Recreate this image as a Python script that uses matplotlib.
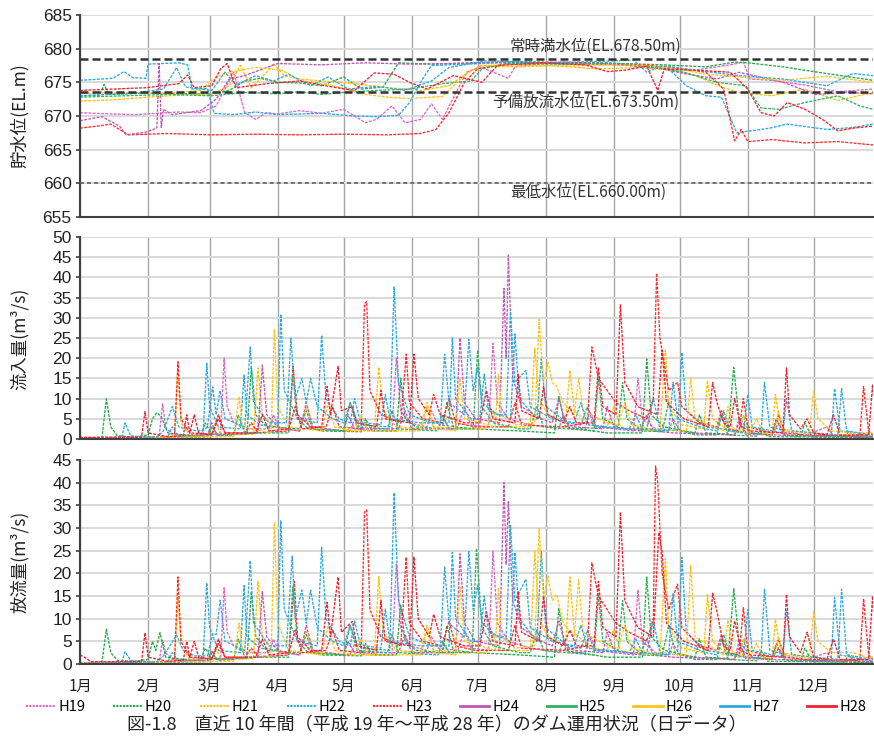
import matplotlib
matplotlib.use("Agg")
import matplotlib.pyplot as plt
from matplotlib.lines import Line2D

plt.rcParams['font.family'] = ['Liberation Sans', 'DejaVu Sans']
JP = ['Noto Sans CJK JP', 'DejaVu Sans']

years = ['H19', 'H20', 'H21', 'H22', 'H23', 'H24', 'H25', 'H26', 'H27', 'H28']
colors = ['#DD66CC', '#22AA44', '#FFC000', '#22AAE6', '#FF2A2A',
          '#C055B8', '#2DB35F', '#FFC41A', '#33A8DD', '#F02030']
dashed_years = ['H19', 'H20', 'H21', 'H22', 'H23']

month_days = [0, 31, 59, 90, 120, 151, 181, 212, 243, 273, 304, 334]
month_labels = ['1月', '2月', '3月', '4月', '5月', '6月', '7月', '8月', '9月', '10月', '11月', '12月']

# reference water levels (EL.m)
full_level = 678.5
flood_level = 673.5
min_level = 660.0

# --- 貯水位 (day of year, EL.m) ---
lv_h19 = [(0, 670.5), (15, 670.3), (25, 670.2), (35, 670.4), (45, 670.6), (55, 670.5), (62, 671.5), (66, 674), (70, 676.5),
          (75, 670.5), (80, 669.5), (85, 670.5), (90, 670.3), (100, 670.8), (110, 670.4), (120, 671), (130, 669), (135, 669.5),
          (142, 671.5), (148, 669), (155, 669.5), (160, 671.8), (165, 669.5), (172, 674), (176, 676.5), (182, 677.3), (195, 675.6),
          (198, 677.3), (210, 677.8), (230, 677.7), (250, 677.6), (265, 677), (280, 676.8), (296, 677.6), (302, 678), (305, 675.5),
          (315, 675.3), (330, 674.6), (345, 673.6), (361, 674.0)]
lv_h20 = [(0, 673.0), (9, 673.1), (11, 674.7), (13, 673.2), (30, 673.4), (45, 673.3), (60, 673.3), (68, 673.8), (75, 675.2),
          (82, 675.6), (90, 675.0), (100, 674.9), (110, 674.5), (120, 675.8), (128, 674.0), (138, 674.3), (145, 677.9), (160, 677.7),
          (180, 677.9), (200, 678.1), (220, 677.9), (245, 677.8), (265, 677.6), (285, 677.3), (298, 678.0), (304, 677.9), (320, 677.3),
          (340, 676.3), (361, 675.3)]
lv_h21 = [(0, 672.2), (15, 672.4), (31, 672.8), (45, 673.1), (60, 673.3), (68, 674.5), (73, 677.5), (78, 674.2), (85, 676.5),
          (88, 677.8), (93, 676), (100, 675.5), (110, 675.2), (125, 674.8), (140, 674.2), (155, 673.8), (168, 674.5), (178, 676.8),
          (185, 677.4), (200, 677.3), (215, 677.5), (235, 677.0), (255, 677.2), (270, 676.8), (280, 676.0), (293, 674.2), (300, 673.5),
          (315, 673.0), (330, 674.0), (345, 672.3), (361, 673.5)]
lv_h22 = [(0, 675.3), (15, 675.6), (20, 676.6), (24, 675.7), (30, 675.6), (31, 677.7), (45, 677.9), (49, 677.6), (51, 674.0),
          (58, 674.1), (61, 670.4), (70, 670.2), (80, 670.6), (90, 670.2), (110, 670.4), (125, 670.0), (135, 669.9), (145, 670.1),
          (150, 672), (155, 675), (160, 677.5), (175, 677.7), (200, 678.0), (220, 677.8), (240, 677.9), (255, 677.4), (268, 677.0),
          (276, 674.5), (285, 673.0), (292, 672.8), (299, 667.5), (314, 668.2), (322, 668.8), (340, 668.0), (352, 668.3), (361, 668.8)]
lv_h23 = [(0, 668.2), (8, 668.5), (14, 668.8), (18, 668.0), (22, 667.2), (40, 667.4), (60, 667.2), (80, 667.3), (100, 667.2),
          (120, 667.3), (140, 667.2), (155, 667.4), (162, 668), (168, 670.5), (175, 675), (181, 677), (195, 677.8), (220, 678.0),
          (240, 677.8), (255, 677.6), (270, 677.2), (285, 676.5), (293, 674.0), (298, 666.3), (301, 668.0), (304, 666.2),
          (315, 666.5), (330, 666.0), (345, 666.2), (361, 665.7)]
lv_h24 = [(0, 669.3), (10, 669.9), (18, 668.5), (21, 667.2), (30, 667.6), (35, 668.2), (36, 677.8), (37, 668.3), (38, 671),
          (42, 670.2), (55, 670.8), (62, 672.5), (68, 675.5), (75, 676), (85, 677.2), (90, 677.8), (110, 677.6), (130, 677.9),
          (150, 677.7), (170, 677.8), (190, 678.0), (200, 677.6), (220, 677.9), (245, 677.6), (262, 677.2), (275, 676.3),
          (290, 675.5), (300, 676.5), (320, 675), (335, 673.2), (350, 673.5), (361, 673.3)]
lv_h25 = [(0, 672.8), (20, 673.0), (40, 673.2), (60, 673.0), (75, 673.5), (90, 673.3), (100, 673.6), (110, 673.2), (120, 673.5),
          (135, 673.8), (150, 674.0), (165, 674.8), (178, 675.2), (183, 677), (195, 677.8), (220, 677.7), (245, 677.8), (260, 677.3),
          (275, 676.5), (290, 675.0), (303, 674.5), (310, 671.2), (318, 671.0), (330, 672), (345, 673), (355, 671.5), (361, 671)]
lv_h26 = [(0, 673.3), (20, 673.5), (40, 673.4), (55, 673.8), (62, 675.8), (68, 676.5), (80, 677.2), (92, 676.8), (100, 675.3),
          (115, 674.5), (130, 673.2), (140, 672.8), (150, 672.6), (165, 672.9), (175, 676), (182, 677.5), (200, 677.6), (220, 677.4),
          (240, 677.6), (260, 677.5), (272, 677), (285, 676.2), (300, 675.8), (320, 675.3), (340, 675.9), (361, 675.0)]
lv_h27 = [(0, 673.0), (25, 673.4), (38, 674.0), (44, 677.2), (48, 674.3), (60, 673.8), (66, 676.5), (71, 674.6), (80, 676.0),
          (88, 675.2), (95, 676.2), (105, 674.5), (113, 675.8), (122, 674.0), (135, 674.4), (148, 673.8), (160, 675.2), (168, 677.2),
          (185, 678.2), (210, 677.9), (235, 678.1), (252, 678.3), (258, 676.5), (265, 677.5), (280, 676.8), (300, 676.0),
          (320, 675.5), (340, 674.5), (352, 676.3), (361, 676.0)]
lv_h28 = [(0, 673.8), (15, 674.0), (30, 674.2), (45, 674.8), (49, 676.1), (52, 674.2), (60, 674.5), (64, 677), (67, 677.8),
          (71, 674.2), (85, 674.8), (100, 675.2), (115, 674.3), (125, 673.8), (134, 676.4), (143, 676.2), (150, 675), (158, 674),
          (170, 676), (183, 675), (190, 677.5), (210, 677.9), (230, 677.6), (240, 676.6), (248, 676.8), (258, 677.4), (263, 673.8),
          (266, 677), (280, 676.8), (296, 676.5), (304, 674), (310, 670.5), (316, 670.0), (322, 672), (330, 671), (338, 669.5),
          (345, 667.8), (352, 668.2), (361, 668.5)]

# --- 流入量 (day of year, m3/s) ---
qin_h19 = [(0, 0.2), (20, 0.3), (36, 0.5), (37.6, 8.7), (39, 3), (42, 1), (64, 1.2), (65.6, 20), (67, 8), (70, 4), (75, 2.5),
           (86, 2.5), (88, 6), (91, 2.5), (100, 2), (102, 6), (105, 2.5), (123, 2), (125, 5), (128, 2.2), (142, 2), (144, 20),
           (146, 7), (150, 4), (158, 3), (160, 7), (163, 3.5), (172, 3), (175, 8), (178, 3.5), (186, 3), (188, 23.7), (190, 9),
           (195, 5), (205, 3.5), (218, 2.5), (220, 6), (223, 2.5), (230, 2.5), (232, 7), (235, 3), (252, 2), (254, 15), (256, 5),
           (262, 2.5), (268, 2), (270, 5), (273, 2), (280, 1.5), (298, 1), (300, 4), (303, 1.2), (330, 0.8), (340, 3), (343, 0.8),
           (361, 0.6)]
qin_h20 = [(0, 0.2), (10, 0.4), (12, 9.9), (14, 3), (17, 0.8), (25, 0.5), (31, 1), (33, 5), (35, 6.5), (37, 5.5), (40, 1.5),
           (50, 0.8), (55, 1), (57, 4), (60, 1.2), (76, 1.2), (78, 17.9), (80, 6), (85, 3), (100, 2.5), (103, 7), (106, 2.5),
           (110, 2), (128, 1.8), (130, 5), (133, 2), (144, 2), (146, 15), (148, 5), (153, 3), (165, 2.5), (167, 9), (170, 3),
           (180, 2.5), (200, 2), (216, 1.5), (218, 10.5), (221, 3), (240, 1.5), (256, 1.5), (258, 19.8), (260, 6), (266, 3),
           (280, 1.5), (282, 6), (285, 1.5), (295, 1.2), (297.6, 17.7), (300, 5), (306, 1.5), (315, 1), (317, 5), (320, 1),
           (328, 0.6), (330, 4), (333, 0.6), (361, 0.3)]
qin_h21 = [(0, 0.1), (43, 0.3), (44.6, 17), (46, 4), (50, 1), (60, 0.8), (62, 4), (64, 1), (79, 1.2), (81, 17.6), (83, 6), (88, 3),
           (100, 2), (103, 8), (106, 2.5), (120, 2), (134, 2), (136, 17.8), (138, 7), (144, 3), (155, 2.5), (158, 9), (161, 3),
           (175, 2.5), (185, 2.5), (188, 7), (191, 3), (205, 3), (207, 22.5), (209, 10), (213, 6), (221, 4), (223, 17), (225, 7),
           (232, 3.5), (240, 3), (243, 8), (246, 3), (250, 2.5), (264, 2), (266.5, 22), (268, 8), (274, 3.5), (284, 2.5),
           (285.6, 14.5), (288, 5), (295, 2), (300, 1.5), (302, 6), (305, 1.5), (315, 1), (316.6, 11), (319, 2.5), (340, 1),
           (361, 0.8)]
qin_h22 = [(0, 0.2), (19, 0.3), (20.5, 4), (23, 0.8), (30, 0.4), (40, 0.5), (42, 3), (45, 0.6), (56, 0.8), (57.7, 18.8), (59, 8),
           (63, 3), (73, 2.5), (74.7, 15.8), (76, 6), (82, 3.5), (90, 3), (91.4, 30.9), (93, 12), (99, 5), (108, 4), (110, 25.7),
           (112, 10), (118, 5), (123, 4), (125, 10), (128, 3.5), (141, 3), (143, 37.6), (145, 14), (150, 6), (160, 4), (168, 4),
           (169.5, 25), (171, 10), (178, 5), (182, 5), (184, 16), (186, 7), (196, 5), (198, 26), (200, 10), (208, 5), (210, 19.8),
           (212, 8), (222, 4), (228, 3.5), (231, 8), (234, 3), (250, 2.5), (258, 2.5), (261, 10), (264, 2.5), (272, 2),
           (274, 21.4), (276, 7), (285, 3), (310, 1.2), (311.6, 14), (314, 3), (330, 0.8), (342, 0.8), (343.5, 12.5), (346, 2),
           (361, 0.6)]
qin_h23 = [(0, 0.3), (43, 0.5), (44.6, 19.1), (46, 5), (50, 1.5), (60, 1.2), (63, 5), (66, 1.5), (75, 1.5), (78, 4), (81, 1.5),
           (95, 2), (97, 18), (99, 6), (105, 3), (112, 3), (115, 8), (118, 3), (128, 2.5), (129.5, 33.5), (130.5, 34), (132, 12),
           (137, 6), (146, 4), (148.5, 21), (150, 9), (156, 5), (165, 4), (168, 10), (171, 4), (180, 3), (195, 3), (198, 9),
           (201, 3.5), (220, 3), (231, 4), (233, 22.8), (236, 15), (240, 12), (244, 9), (250, 7), (258, 5), (261, 10),
           (262.5, 41), (264, 25), (268, 12), (272, 14), (274, 8), (282, 4), (290, 3), (292, 7), (295, 2.5), (300, 2), (302, 10),
           (304, 3), (315, 1.5), (318, 6), (321, 1.5), (330, 1), (355, 0.8), (356.7, 13), (359, 2), (361, 1)]
qin_h24 = [(0, 0.3), (30, 0.4), (58, 0.8), (60, 4), (62, 1), (81, 1.5), (83, 18.3), (85, 6), (90, 3), (100, 2), (103, 9),
           (106, 3), (120, 2), (122, 6), (125, 2.5), (145, 2.5), (148, 7), (151, 2.5), (171, 2.5), (173, 25), (175, 9), (180, 5),
           (191, 4), (193, 37.3), (194, 20), (195, 45.5), (197, 15), (201, 8), (210, 5), (215, 4), (218, 10), (221, 4), (225, 3),
           (238, 2.5), (240, 8), (243, 3), (255, 2), (258, 6), (261, 2), (270, 1.5), (298, 1), (300, 5), (303, 1.5), (315, 1),
           (318, 4), (321, 1), (330, 0.8), (361, 0.5)]
qin_h25 = [(0, 0.1), (40, 0.3), (58, 0.5), (60, 3), (63, 0.8), (70, 1), (72, 6), (75, 1.5), (95, 1.5), (96.8, 16), (99, 5),
           (104, 2.5), (120, 2), (123, 9), (126, 3), (140, 2.5), (142, 7), (145, 2.5), (163, 2), (165, 6), (168, 2.5), (179, 2.5),
           (181, 22), (183, 8), (188, 4), (200, 2.5), (205, 2.5), (208, 8), (211, 3), (234, 2), (236, 15), (238, 5), (245, 3),
           (247, 14), (249, 5), (256, 2), (265, 1.8), (268, 9), (271, 2.5), (280, 1), (290, 1), (292, 6), (295, 1), (308, 0.7),
           (310, 3), (313, 0.6), (348, 0.4), (350, 2), (353, 0.3), (361, 0.2)]
qin_h26 = [(0, 0.2), (70, 0.6), (72.4, 10.5), (74, 3), (87, 1.5), (88.5, 27.2), (90, 8), (95, 3), (110, 2), (113, 9), (116, 3),
           (125, 2), (128, 6), (131, 2), (150, 2), (155, 2), (158, 8), (161, 2.5), (171, 2), (173, 15), (175, 5), (189, 3),
           (190.5, 16), (192, 6), (198, 3.5), (207, 4), (209, 29.6), (211, 14), (213, 19), (215, 14), (217, 13), (220, 9), (225, 6),
           (227, 15), (229, 7), (240, 4), (245, 3.5), (248, 9), (251, 3.5), (260, 2.5), (276, 2), (278, 15), (280, 5), (293, 2),
           (295, 8), (297, 2.5), (305, 1.5), (308, 5), (311, 1.5), (316, 1.5), (318, 7), (320, 2), (332, 1.2), (334, 12), (336, 5),
           (342, 2), (352, 1.5), (361, 1.5)]
qin_h27 = [(0, 0.1), (35, 0.5), (38, 2), (42, 8), (45, 3), (50, 2.2), (56, 2), (58, 3), (60.4, 12.9), (62, 6), (63.8, 12), (66, 5),
           (75, 3), (77.5, 22.8), (79, 9), (86, 4), (94, 4), (96, 25), (98, 10), (101, 15), (103, 9), (105, 15), (108, 8), (115, 5),
           (120, 4), (123, 9), (126, 4.5), (130, 4), (137, 3.5), (139, 11), (141, 5), (155, 4), (164, 4), (166, 21), (168, 9),
           (175, 6), (177, 24.7), (179, 12), (181, 17.8), (183, 9), (190, 6), (194, 6), (196, 31.5), (198, 14), (203, 17), (205, 8),
           (215, 5), (225, 4), (228, 9), (231, 3.5), (240, 3), (250, 2.5), (253, 6), (256, 2.5), (268, 2), (270, 14), (272, 5),
           (285, 2.5), (290, 2), (293, 7), (296, 2), (302, 1.5), (304, 11), (306, 3), (320, 1.5), (321.6, 10), (324, 2), (345, 1),
           (346.7, 12.5), (349, 2), (361, 1)]
qin_h28 = [(0, 0.4), (28, 0.5), (29.6, 6.8), (31, 1.5), (40, 0.6), (47, 0.8), (48.6, 6), (50, 1.5), (52, 6), (54, 1.5), (60, 1),
           (63, 6), (66, 1.5), (80, 1.5), (83, 6), (86, 2), (95, 2.5), (98, 8), (101, 2.5), (110, 3), (112.5, 13), (114, 6),
           (117.5, 18), (119, 7), (124, 8), (126, 4), (135, 3), (137, 12), (139, 5), (150, 4), (152, 21), (154, 10), (159, 6),
           (161, 11), (164, 6), (175, 4), (182, 4), (185, 12), (188, 5), (198, 4), (199.5, 16), (201, 7), (209, 5), (211, 13),
           (213, 6), (220, 4), (223, 8), (226, 4), (234, 4), (236, 17.7), (238, 8), (244, 6), (246, 33.2), (248, 14), (254, 8),
           (263, 6), (265, 22), (267, 9), (275, 5), (286, 3), (288, 14), (290, 9), (293, 4), (296, 3), (298, 10), (301, 3),
           (305, 2), (320, 1.5), (321.6, 17.6), (323, 6), (328, 2.5), (331, 5), (334, 1.5), (340, 1), (343, 6), (346, 1),
           (359, 1), (360.8, 13.5), (362, 5)]

# --- 放流量 (day of year, m3/s) ---
qout_h19 = [(0, 0.2), (20, 0.3), (36, 0.5), (37.6, 5.3), (39, 2.5), (42, 1), (64, 1.2), (65.6, 16.8), (67, 7), (70, 4),
            (75, 2.5), (86, 2.5), (88, 5.5), (91, 2.5), (100, 2), (102, 5), (105, 2.5), (123, 2), (125, 4.5), (128, 2.2), (142, 2),
            (144, 22), (146, 8), (150, 4), (158, 3), (160, 6), (163, 3.5), (172, 3), (175, 7.5), (178, 3.5), (186, 3), (188, 24.8),
            (190, 9), (195, 5), (205, 3.5), (218, 2.5), (220, 5), (223, 2.5), (230, 2.5), (232, 6.5), (235, 3), (252, 2),
            (254, 16.4), (256, 5), (262, 2.5), (268, 2), (270, 4.5), (273, 2), (280, 1.5), (298, 1), (300, 3.5), (303, 1.2),
            (330, 0.8), (340, 2.5), (343, 0.8), (361, 0.6)]
qout_h20 = [(0, 0.2), (10, 0.4), (12, 7.7), (14, 2.5), (17, 0.8), (25, 0.6), (31, 1), (33, 5), (34.5, 3), (36.4, 6.9), (39, 1.5),
            (50, 0.8), (55, 1), (57, 3.5), (60, 1.2), (76, 1.2), (78, 16), (80, 6), (85, 3), (100, 2.5), (103, 6.5), (106, 2.5),
            (110, 2), (128, 1.8), (130, 4.5), (133, 2), (144, 2), (146, 13), (148, 5), (153, 3), (165, 2.5), (167, 8.5), (170, 3),
            (180, 2.5), (200, 2), (216, 1.5), (218, 12.3), (221, 3), (240, 1.5), (256, 1.5), (258, 19.2), (260, 6), (266, 3),
            (280, 1.5), (282, 5.5), (285, 1.5), (295, 1.2), (297.6, 16.6), (300, 5), (306, 1.5), (315, 1), (317, 4.5), (320, 1),
            (328, 0.6), (330, 3.5), (333, 0.6), (361, 0.3)]
qout_h21 = [(0, 0.1), (43, 0.3), (44.6, 15), (46, 4), (50, 1), (60, 0.8), (62, 3.5), (64, 1), (79, 1.2), (81, 18.2), (83, 6),
            (88, 3), (100, 2), (103, 7.5), (106, 2.5), (120, 2), (134, 2), (136, 19.3), (138, 7), (144, 3), (155, 2.5), (158, 8.5),
            (161, 3), (175, 2.5), (185, 2.5), (188, 6.5), (191, 3), (205, 3), (207, 24.8), (209, 10), (213, 6), (221, 4),
            (223, 19.2), (225, 7), (232, 3.5), (240, 3), (243, 7.5), (246, 3), (250, 2.5), (264, 2), (266.5, 23.3), (268, 8),
            (274, 3.5), (284, 2.5), (285.6, 15.3), (288, 5), (295, 2), (300, 1.5), (302, 5.5), (305, 1.5), (315, 1),
            (316.6, 9.8), (319, 2.5), (340, 1), (361, 0.8)]
qout_h22 = [(0, 0.2), (19, 0.3), (20.5, 2.7), (23, 0.8), (30, 0.4), (40, 0.5), (42, 2.5), (45, 0.6), (56, 0.8), (57.7, 17.9),
            (59, 8), (63, 3), (73, 2.5), (74.7, 17.3), (76, 6), (82, 3.5), (90, 3), (91.4, 31.6), (93, 12), (99, 5), (108, 4),
            (110, 25.8), (112, 10), (118, 5), (123, 4), (125, 9.5), (128, 3.5), (141, 3), (143, 37.8), (145, 14), (150, 6),
            (160, 4), (168, 4), (169.5, 24.6), (171, 10), (178, 5), (182, 5), (184, 15), (186, 7), (196, 5), (198, 24.6),
            (200, 10), (208, 5), (210, 24.8), (212, 8), (222, 4), (228, 3.5), (231, 7.5), (234, 3), (250, 2.5), (258, 2.5),
            (261, 9.5), (264, 2.5), (272, 2), (274, 23.5), (276, 7), (285, 3), (310, 1.2), (311.6, 16.5), (314, 3), (330, 0.8),
            (342, 0.8), (343.5, 14.7), (346, 2), (361, 0.6)]
qout_h23 = [(0, 0.3), (43, 0.5), (44.6, 19.2), (46, 5), (50, 1.5), (60, 1.2), (63, 4.5), (66, 1.5), (75, 1.5), (78, 3.5),
            (81, 1.5), (95, 2), (97.6, 18.2), (99, 6), (105, 3), (112, 3), (115, 7.5), (118, 3), (128, 2.5), (129.5, 33.5),
            (130.5, 34), (132, 12), (137, 6), (146, 4), (148.5, 23.6), (150, 9), (156, 5), (165, 4), (168, 9.5), (171, 4),
            (180, 3), (195, 3), (198, 8.5), (201, 3.5), (220, 3), (231, 4), (233, 22.3), (236, 15), (240, 12), (244, 9), (250, 7),
            (258, 5), (261, 10), (262, 43.7), (263, 40), (265, 20), (268, 12), (272, 17.6), (274, 8), (282, 4), (290, 3),
            (292, 6.5), (295, 2.5), (300, 2), (302, 12.4), (304, 3), (315, 1.5), (318, 5.5), (321, 1.5), (330, 1), (355, 0.8),
            (356.7, 14.4), (359, 2), (361, 1)]
qout_h24 = [(0, 0.3), (30, 0.4), (58, 0.8), (60, 3), (62, 1), (81, 1.5), (83, 16), (85, 6), (90, 3), (100, 2), (103, 8.5),
            (106, 3), (120, 2), (122, 5), (125, 2.5), (145, 2.5), (148, 6.5), (151, 2.5), (171, 2.5), (173, 24.3), (175, 9),
            (180, 5), (191, 4), (193, 40), (194, 22), (195, 35.8), (197, 14), (201, 8), (210, 5), (215, 4), (218, 9.5), (221, 4),
            (225, 3), (238, 2.5), (240, 7), (243, 3), (255, 2), (258, 5.5), (261, 2), (270, 1.5), (298, 1), (300, 5), (303, 1.5),
            (315, 1), (318, 3.5), (321, 1), (330, 0.8), (361, 0.5)]
qout_h25 = [(0, 0.1), (40, 0.3), (58, 0.5), (60, 2.5), (63, 0.8), (70, 1), (72, 5.5), (75, 1.5), (95, 1.5), (96.8, 17), (99, 5),
            (104, 2.5), (120, 2), (123, 8.5), (126, 3), (140, 2.5), (142, 6.5), (145, 2.5), (163, 2), (165, 5), (168, 2.5),
            (178.5, 2.5), (180.5, 25.5), (183, 8), (188, 4), (200, 2.5), (205, 2.5), (208, 7.5), (211, 3), (234, 2), (236, 15),
            (238, 5), (245, 3), (247, 14), (249, 5), (256, 2), (265, 1.8), (268, 8.5), (271, 2.5), (280, 1), (290, 1), (292, 5.5),
            (295, 1), (308, 0.7), (310, 3), (313, 0.6), (348, 0.4), (350, 2), (353, 0.3), (361, 0.2)]
qout_h26 = [(0, 0.2), (70, 0.6), (72.4, 9), (74, 3), (87, 1.5), (88.5, 31.3), (90, 9), (95, 3), (110, 2), (113, 8.5), (116, 3),
            (125, 2), (128, 5.5), (131, 2), (150, 2), (155, 2), (158, 7.5), (161, 2.5), (171, 2), (173, 17), (175, 5), (189, 3),
            (190.5, 16.8), (192, 6), (198, 3.5), (207, 4), (209, 29.9), (211, 14), (213, 19.4), (215, 14), (217, 15.3), (220, 9),
            (225, 6), (227, 18.6), (229, 7), (240, 4), (245, 3.5), (248, 8.5), (251, 3.5), (260, 2.5), (276, 2), (278, 21.7),
            (280, 6), (293, 2), (295, 9.7), (297, 2.5), (305, 1.5), (308, 4.5), (311, 1.5), (316, 1.5), (318, 6), (320, 2),
            (332, 1.2), (334, 11.5), (336, 5), (342, 2.5), (352, 2.5), (358, 1.5), (361, 1.5)]
qout_h27 = [(0, 0.1), (35, 0.5), (38, 1.8), (44, 6.4), (47, 3), (52, 1.8), (58, 1.8), (60.4, 6.6), (62, 6.5), (63.8, 14.1),
            (66, 5), (75, 3), (77.5, 22.8), (79, 9), (86, 4), (94, 4), (96.6, 23.8), (98, 10), (101, 16.3), (103, 9), (105, 16.3),
            (108, 8), (115, 5), (120, 4), (123, 8.5), (126, 4.5), (130, 4), (137, 3.5), (139, 12.1), (141, 5), (155, 4), (164, 4),
            (166, 21.4), (168, 9), (175, 6), (177, 24.8), (179, 12), (181, 17.4), (183, 9), (190, 6), (194, 6), (196, 30.5),
            (198, 14), (203, 18.7), (205, 8), (215, 5), (225, 4), (228, 8.5), (231, 3.5), (240, 3), (250, 2.5), (253, 5.5),
            (256, 2.5), (268, 2), (270, 15.5), (272, 5), (285, 2.5), (290, 2), (293, 6.5), (296, 2), (302, 1.5), (304, 12),
            (306, 3), (320, 1.5), (321.6, 12), (324, 2), (345, 1), (346.7, 16.5), (349, 2), (361, 1)]
qout_h28 = [(0, 2), (2, 1.5), (5, 0.5), (28, 0.5), (29.6, 6.9), (31, 1.5), (40, 0.6), (47, 0.8), (48.6, 5), (50, 1.5), (52, 5),
            (54, 1.5), (60, 1), (63, 5.5), (66, 1.5), (80, 1.5), (83, 5.5), (86, 2), (95, 2.5), (98, 7.5), (101, 2.5), (110, 3),
            (112.5, 13.6), (114, 6), (117.5, 19.2), (119, 7), (124, 9.4), (126, 4), (135, 3), (137, 14), (139, 5), (150, 4),
            (152, 23.6), (154, 10), (159, 6), (161, 11), (164, 6), (175, 4), (182, 4), (185, 11.5), (188, 5), (198, 4),
            (199.5, 16), (201, 7), (209, 5), (211, 15), (213, 6), (220, 4), (223, 7.5), (226, 4), (234, 4), (236, 18.2), (238, 8),
            (244, 6), (246, 33.5), (248, 14), (254, 8), (261, 6), (263.5, 29), (265, 24.8), (267, 9), (275, 5), (286, 3),
            (288, 15.6), (290, 11.5), (293, 4), (296, 3), (298, 9.5), (301, 3), (305, 2), (320, 1.5), (321.6, 15.3), (323, 6),
            (328, 2.5), (331, 7), (334, 1.5), (340, 1), (343, 5.5), (346, 1), (359, 1), (360.8, 15), (362, 5)]

levels = [lv_h19, lv_h20, lv_h21, lv_h22, lv_h23, lv_h24, lv_h25, lv_h26, lv_h27, lv_h28]
inflows = [qin_h19, qin_h20, qin_h21, qin_h22, qin_h23, qin_h24, qin_h25, qin_h26, qin_h27, qin_h28]
outflows = [qout_h19, qout_h20, qout_h21, qout_h22, qout_h23, qout_h24, qout_h25, qout_h26, qout_h27, qout_h28]

W, H = 874, 737
fig = plt.figure(figsize=(W / 100, H / 100), dpi=100)


def axes_px(top, bottom):
    return fig.add_axes([80 / W, 1 - bottom / H, 793 / W, (bottom - top) / H])


ax1 = axes_px(15, 217)
ax2 = axes_px(237, 439)
ax3 = axes_px(460, 664)


def draw(ax, series):
    # the daily lines look broken into short dashes at this size, for every year
    for name, col, pts in zip(years, colors, series):
        d = [p[0] for p in pts]
        v = [p[1] for p in pts]
        ax.plot(d, v, color=col, lw=0.95, ls=(0, (2.2, 1.0)))


def style(ax, ylo, yhi, last=False):
    ax.set_xlim(0, 361)
    ax.set_ylim(ylo, yhi)
    ax.set_yticks(range(ylo, yhi + 1, 5))
    ax.set_xticks(month_days)
    ax.set_axisbelow(True)
    ax.yaxis.grid(True, color='#d9d9d9', lw=1.4)
    ax.xaxis.grid(True, color='#a6a6a6', lw=1.0)
    for s in ['top', 'right']:
        ax.spines[s].set_visible(False)
    for s in ['left', 'bottom']:
        ax.spines[s].set_color('#404040')
        ax.spines[s].set_linewidth(1.5)
    ax.tick_params(axis='y', length=3, width=1.2, color='#404040', labelsize=12.5, pad=3, labelcolor='#222222')
    if last:
        ax.set_xticklabels(month_labels, fontfamily=JP, fontsize=11)
        ax.tick_params(axis='x', length=0, pad=10, labelcolor='#222222')
    else:
        ax.tick_params(axis='x', length=0, labelbottom=False)


draw(ax1, levels)
draw(ax2, inflows)
draw(ax3, outflows)
style(ax1, 655, 685)
style(ax2, 0, 50)
style(ax3, 0, 45, last=True)

ax1.axhline(full_level, color='#333333', lw=1.8, ls=(0, (3.2, 1.6)), zorder=5)
ax1.axhline(flood_level, color='#333333', lw=1.8, ls=(0, (3.2, 1.6)), zorder=5)
ax1.axhline(min_level, color='#555555', lw=1.1, ls=(0, (2.6, 2.0)), zorder=5)
ax1.text(234.6, 680.4, '常時満水位(EL.678.50m)', ha='center', va='center', fontsize=11.2, family=JP, color='#333333')
ax1.text(230.0, 672.0, '予備放流水位(EL.673.50m)', ha='center', va='center', fontsize=11.2, family=JP, color='#333333')
ax1.text(231.4, 658.6, '最低水位(EL.660.00m)', ha='center', va='center', fontsize=11.2, family=JP, color='#333333')

fig.text(20 / W, 1 - 116 / H, '貯水位(EL.m)', rotation=90, ha='center', va='center', fontsize=12.5, family=JP, color='#222222')
fig.text(20 / W, 1 - 339 / H, '流入量(m³/s)', rotation=90, ha='center', va='center', fontsize=12.5, family=JP, color='#222222')
fig.text(20 / W, 1 - 562 / H, '放流量(m³/s)', rotation=90, ha='center', va='center', fontsize=12.5, family=JP, color='#222222')

handles = []
for name, col in zip(years, colors):
    if name in dashed_years:
        handles.append(Line2D([], [], color=col, lw=1.5, ls=(0, (1, 0.6))))
    else:
        handles.append(Line2D([], [], color=col, lw=2.0, ls='-'))
fig.legend(handles, years, ncol=10, loc='center', bbox_to_anchor=(446 / W, 1 - 707 / H), frameon=False,
           handlelength=2.0, handletextpad=0.2, columnspacing=1.9, prop={'family': JP, 'size': 10.5})

fig.text(0.5, 1 - 725 / H, '図-1.8　直近 10 年間（平成 19 年～平成 28 年）のダム運用状況（日データ）',
         ha='center', va='center', fontsize=13, family=JP, color='#222222')

fig.savefig('out.png', dpi=100)
